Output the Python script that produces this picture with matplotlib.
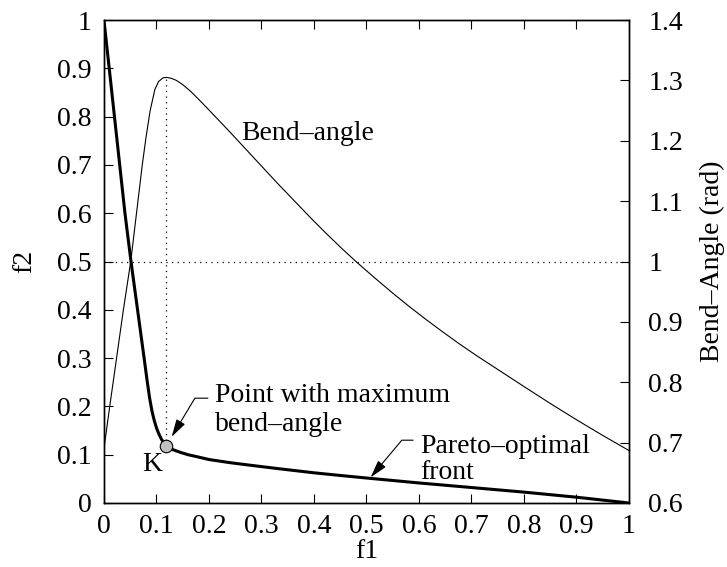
import numpy as np
import matplotlib
matplotlib.use("Agg")
import matplotlib.pyplot as plt

plt.rcParams['font.family'] = ['Liberation Serif', 'DejaVu Serif']
plt.rcParams['font.size'] = 20

# Pareto-optimal front (f1, f2)
front_f1 = [0.0, 0.010, 0.020, 0.030, 0.040, 0.0515, 0.064, 0.0765, 0.082,
            0.087, 0.0915, 0.096, 0.1005, 0.105, 0.110, 0.119, 0.13, 0.145,
            0.16, 0.1765, 0.2, 0.24, 0.28, 0.329, 0.4, 0.45, 0.507, 0.6,
            0.716, 0.8, 0.9, 1.0]
front_f2 = [1.0, 0.9, 0.8, 0.7, 0.6, 0.5, 0.4, 0.3, 0.255,
            0.217, 0.19, 0.17, 0.154, 0.142, 0.131, 0.119, 0.111, 0.105,
            0.1, 0.096, 0.09, 0.0835, 0.078, 0.0715, 0.0625, 0.057, 0.051,
            0.0415, 0.0305, 0.0225, 0.012, 0.0]

# bend-angle along the front (rad)
bend_f1 = [0.0, 0.011, 0.024, 0.037, 0.051, 0.062, 0.073, 0.080, 0.088,
           0.097, 0.104, 0.112, 0.119, 0.128, 0.138, 0.150, 0.165, 0.180,
           0.200, 0.234, 0.265, 0.297, 0.329, 0.361, 0.393, 0.424, 0.452,
           0.48, 0.515, 0.551, 0.583, 0.615, 0.646, 0.678, 0.71, 0.74, 0.77,
           0.8, 0.85, 0.9, 0.95, 1.0]
bend_rad = [0.69, 0.76, 0.84, 0.92, 1.0, 1.08, 1.16, 1.205, 1.25,
            1.285, 1.298, 1.304, 1.305, 1.3035, 1.300, 1.293, 1.282, 1.269,
            1.251, 1.22, 1.191, 1.161, 1.131, 1.102, 1.073, 1.046, 1.0225,
            1.0, 0.9735, 0.947, 0.9245, 0.903, 0.883, 0.863, 0.844, 0.827,
            0.81, 0.793, 0.765, 0.738, 0.712, 0.687]

# knee point K
knee_f1, knee_f2 = 0.119, 0.119

x_ticks = [0, 0.1, 0.2, 0.3, 0.4, 0.5, 0.6, 0.7, 0.8, 0.9, 1]
x_labels = ['0', '0.1', '0.2', '0.3', '0.4', '0.5', '0.6', '0.7', '0.8', '0.9', '1']
y_ticks = x_ticks
y_labels = x_labels
r_ticks = [0.6, 0.7, 0.8, 0.9, 1.0, 1.1, 1.2, 1.3, 1.4]
r_labels = ['0.6', '0.7', '0.8', '0.9', '1', '1.1', '1.2', '1.3', '1.4']

fig = plt.figure(figsize=(7.27, 5.67), dpi=100)
ax = fig.add_axes([0.143, 0.1129, 0.722, 0.8518])
ax2 = ax.twinx()

ax.set_xlim(0, 1)
ax.set_ylim(0, 1)
ax2.set_ylim(0.6, 1.4)

# dotted guide lines through the bend-angle peak and 1 rad
peak = int(np.argmax(bend_rad))
peak_f2 = (bend_rad[peak] - 0.6) / 0.8
ax.plot([0, 1], [0.5, 0.5], color='k', lw=0.9, ls=(0, (1, 3.5)))
ax.plot([bend_f1[peak], bend_f1[peak]], [knee_f2, peak_f2], color='k', lw=0.9,
        ls=(0, (1, 3.5)))

ax.plot(front_f1, front_f2, color='k', lw=2.2, solid_joinstyle='round', zorder=3)
ax2.plot(bend_f1, bend_rad, color='k', lw=0.8, zorder=3)

ax.plot([knee_f1], [knee_f2], 'o', ms=9, mfc='#c0c0c0', mec='k', mew=0.8,
        zorder=5)

ax.text(0.091, 0.079, 'K', ha='center', va='center')
ax.text(0.262, 0.766, 'Bend–angle', ha='left', va='center')

ax.text(0.211, 0.222, 'Point with maximum', ha='left', va='center')
ax.text(0.211, 0.163, 'bend–angle', ha='left', va='center')
ax.annotate('', xy=(0.129, 0.137), xytext=(0.198, 0.217),
            arrowprops=dict(arrowstyle='-|>,head_length=0.9,head_width=0.25',
                            connectionstyle='angle,angleA=0,angleB=59,rad=0',
                            mutation_scale=12, color='k', lw=0.8,
                            shrinkA=0, shrinkB=0))

ax.text(0.603, 0.116, 'Pareto–optimal', ha='left', va='center')
ax.text(0.603, 0.064, 'front', ha='left', va='center')
ax.annotate('', xy=(0.508, 0.053), xytext=(0.589, 0.130),
            arrowprops=dict(arrowstyle='-|>,head_length=0.9,head_width=0.25',
                            connectionstyle='angle,angleA=0,angleB=50,rad=0',
                            mutation_scale=12, color='k', lw=0.8,
                            shrinkA=0, shrinkB=0))

ax.set_xticks(x_ticks)
ax.set_xticklabels(x_labels)
ax.set_yticks(y_ticks)
ax.set_yticklabels(y_labels)
ax2.set_yticks(r_ticks)
ax2.set_yticklabels(r_labels)

ax.tick_params(axis='x', direction='in', length=6.5, width=0.8, top=True,
               pad=8)
ax.tick_params(axis='y', direction='in', length=6.5, width=0.8, pad=9)
ax2.tick_params(axis='y', direction='in', length=6.5, width=0.8, pad=14)

for a in (ax, ax2):
    for s in a.spines.values():
        s.set_linewidth(1.0)

ax.set_xlabel('f1', labelpad=0)
ax.set_ylabel('f2', labelpad=14)
ax2.set_ylabel('Bend–Angle (rad)', labelpad=12)

fig.savefig('out.png', dpi=100)
